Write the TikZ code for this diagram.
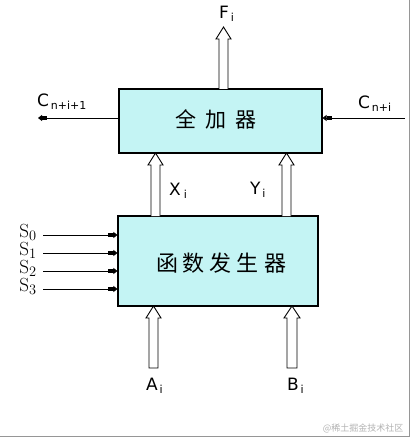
\documentclass[tikz,border=0pt]{standalone}
\usepackage{fontspec}
\newfontfamily\cjk{Noto Sans CJK SC}
\newfontfamily\lab{DejaVu Sans}
\usetikzlibrary{arrows.meta}
\definecolor{boxfill}{RGB}{196,244,244}
\definecolor{framegray}{RGB}{150,150,150}
\newcommand{\lsub}[1]{\raisebox{-3pt}{\fontsize{11}{11}\selectfont #1}}
\tikzset{
  blk/.style={draw=black, line width=1.1pt, fill=boxfill, inner sep=0pt},
  sig/.style={line width=0.9pt, -{Rectangle[length=5pt,width=4.5pt]Triangle[length=4pt,width=6pt]}},
  bus/.style={line width=0.9pt, fill=white},
  lbl/.style={font=\lab\fontsize{17}{17}\selectfont, inner sep=0pt},
  slbl/.style={font=\fontsize{19}{19}\selectfont, inner sep=0pt, text height=12pt, text depth=3pt},
}
\newcommand{\hollowup}[4]{% x1, x2, ybot, ytip
  \draw[bus] (#1,#3) -- (#1,#4+12) -- (#1-3,#4+12) -- ({(#1+#2)/2},#4) -- (#2+3,#4+12) -- (#2,#4+12) -- (#2,#3);}
\newcommand{\hollowupclosed}[4]{%
  \draw[bus] (#1,#3) -- (#1,#4+12) -- (#1-3,#4+12) -- ({(#1+#2)/2},#4) -- (#2+3,#4+12) -- (#2,#4+12) -- (#2,#3) -- cycle;}
\begin{document}
\begin{tikzpicture}[x=1pt,y=-1pt]
\useasboundingbox (0,0) rectangle (417,438);
\draw[framegray, line width=0.8pt] (409.5,0) -- (409.5,436.5) -- (0,436.5);
% boxes
\node[blk, minimum width=203pt, minimum height=64pt] (fa) at (220.5,121) {};
\node[font=\cjk\fontsize{21}{21}\selectfont] (fat) at (216,119) {全\hspace{9pt}加\hspace{9pt}器};
\node[blk, minimum width=200pt, minimum height=90pt] (fg) at (218,261) {};
\node[font=\cjk\fontsize{22}{22}\selectfont] (fgt) at (221,263) {函\hspace{5pt}数\hspace{5pt}发\hspace{5pt}生\hspace{5pt}器};
% bus arrows
\hollowup{219}{228}{89}{27}
\hollowup{151}{160}{216}{153}
\hollowup{282}{291}{216}{153}
\hollowupclosed{149}{158}{368}{306}
\hollowupclosed{287}{297}{368}{306}
% labels
\node[lbl, anchor=west] (fi) at (219,14) {F\lsub{\,i}};
\node[lbl, anchor=west] (xi) at (169,191) {X\lsub{\;i}};
\node[lbl, anchor=west] (yi) at (250,190) {Y\lsub{\,i}};
\node[lbl, anchor=west] (ai) at (146,386) {A\lsub{\,i}};
\node[lbl, anchor=west] (bi) at (287,386) {B\lsub{\,i}};
\node[lbl, anchor=west] (cout) at (37,102) {C\lsub{\,n+i+1}};
\node[lbl, anchor=west] (cin) at (358,104) {C\lsub{\,n+i}};
% carry lines
\coordinate (coutend) at (38,118);
\coordinate (cinstart) at (405,118);
\draw[sig] (fa.west |- coutend) -- (coutend);
\draw[sig] (cinstart) -- (fa.east |- cinstart);
% S inputs
\foreach \k/\y in {0/235,1/253,2/271,3/289}{
  \node[slbl] (s\k) at (28,\y-2) {S$_{\k}$};
  \coordinate (se\k) at (43,\y);
  \draw[sig] (se\k) -- (fg.west |- se\k);
}
\node[font=\cjk\fontsize{9}{9}\selectfont, text=gray!60, anchor=east] (wm) at (407,428) {@稀土掘金技术社区};
\end{tikzpicture}
\end{document}
